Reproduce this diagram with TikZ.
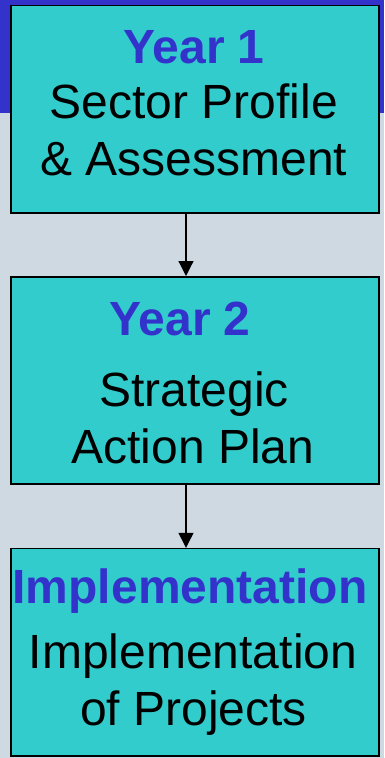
\documentclass[tikz,border=0pt]{standalone}
\usepackage{fontspec}
\setmainfont{Liberation Sans}
\usetikzlibrary{arrows.meta}
\definecolor{bg}{HTML}{CFD9E1}
\definecolor{band}{HTML}{3333CC}
\definecolor{tealbox}{HTML}{33CCCC}
\begin{document}
\begin{tikzpicture}[x=1pt,y=-1pt,
  box/.style={draw=black,line width=1.6pt,fill=tealbox,inner sep=0pt,
    minimum width=367.7pt,minimum height=207.2pt,anchor=north west},
  head/.style={font=\fontsize{48}{56}\selectfont\bfseries,text=band,anchor=base,inner sep=0pt},
  body/.style={font=\fontsize{48}{56}\selectfont,text=black,anchor=base,inner sep=0pt},
  conn/.style={line width=1.2pt,-{Triangle[width=15pt,length=15pt]}}]
\fill[bg] (0,0) rectangle (384,758);
\fill[band] (0,0) rectangle (384,113);
\useasboundingbox (0,0) rectangle (384,758);
\node[box] (b1) at (10.3,4.7) {};
\node[box] (b2) at (10.3,276) {};
\node[box] (b3) at (10.3,547.8) {};
\node[head] (t1) at (194,63) {Year 1};
\node[body] (t1a) at (194,118) {Sector Profile};
\node[body] (t1b) at (194,175) {\& Assessment};
\node[head] (t2) at (180,335) {Year 2};
\node[body] (t2a) at (194,406) {Strategic};
\node[body] (t2b) at (193,463) {Action Plan};
\node[head] (t3) at (190,603) {Implementation};
\node[body] (t3a) at (193,668) {Implementation};
\node[body] (t3b) at (193.5,725) {of Projects};
\coordinate (ax) at (186,0);
\draw[conn] (b1.south -| ax) -- (b2.north -| ax);
\draw[conn] (b2.south -| ax) -- (b3.north -| ax);
\end{tikzpicture}
\end{document}
